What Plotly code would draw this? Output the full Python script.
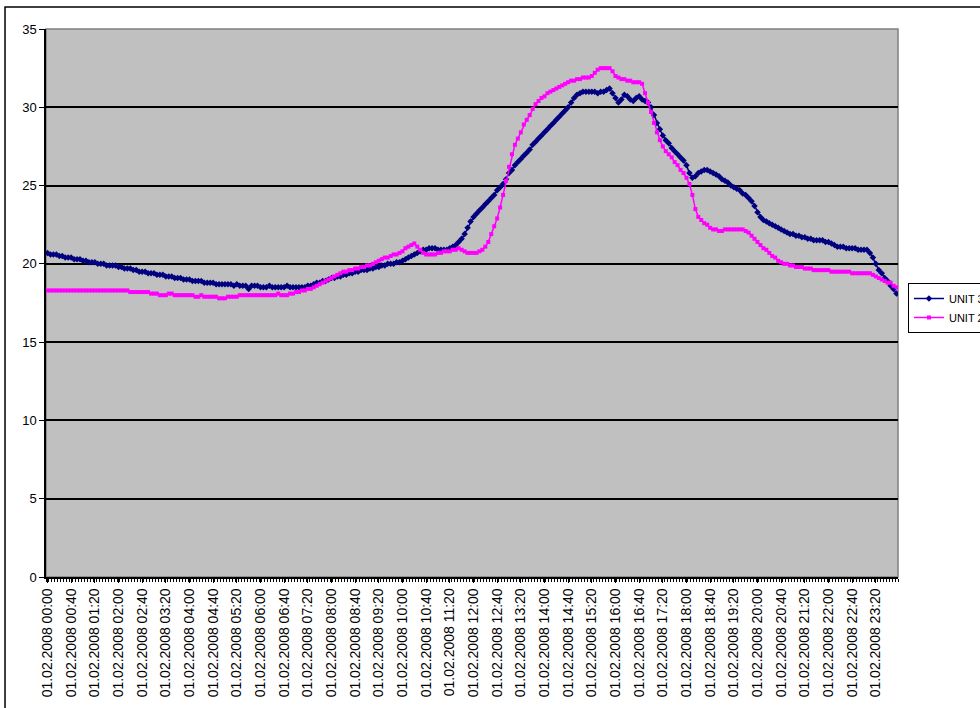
import plotly.graph_objects as go

# ---- data (5-minute samples, 01.02.2008) ----
unit3 = [
    20.7,20.6,20.6,20.6,20.5,20.5,20.4,20.4,20.4,20.3,20.3,20.3,
    20.2,20.2,20.1,20.1,20.1,20.0,20.0,20.0,19.9,19.9,19.9,19.9,
    19.8,19.8,19.7,19.7,19.7,19.6,19.6,19.5,19.5,19.5,19.4,19.4,
    19.4,19.3,19.3,19.3,19.2,19.2,19.2,19.1,19.1,19.1,19.0,19.0,
    19.0,18.9,18.9,18.9,18.9,18.8,18.8,18.8,18.8,18.7,18.7,18.7,
    18.7,18.7,18.7,18.6,18.7,18.6,18.6,18.6,18.4,18.6,18.6,18.6,
    18.5,18.5,18.5,18.6,18.5,18.5,18.5,18.5,18.5,18.6,18.5,18.5,
    18.5,18.5,18.5,18.5,18.6,18.6,18.7,18.8,18.8,18.9,18.9,19.0,
    19.1,19.1,19.2,19.2,19.3,19.3,19.4,19.4,19.5,19.5,19.6,19.6,
    19.6,19.7,19.7,19.8,19.8,19.9,19.9,20.0,20.0,20.0,20.1,20.1,
    20.2,20.3,20.4,20.5,20.6,20.7,20.8,20.9,20.9,21.0,21.0,21.0,
    20.9,20.9,20.9,20.9,21.0,21.1,21.2,21.4,21.6,21.9,22.3,22.7,
    23.0,23.2,23.4,23.6,23.8,24.0,24.2,24.4,24.7,24.9,25.1,25.4,
    25.8,26.0,26.3,26.5,26.7,26.9,27.1,27.3,27.6,27.8,28.0,28.2,
    28.4,28.6,28.8,29.0,29.2,29.4,29.6,29.8,30.0,30.3,30.6,30.8,
    30.9,31.0,31.0,31.0,31.0,31.0,30.9,31.0,31.0,31.1,31.2,30.9,
    30.6,30.3,30.5,30.8,30.7,30.5,30.4,30.6,30.7,30.5,30.4,30.3,
    30.0,29.5,29.0,28.6,28.2,27.9,27.7,27.4,27.2,27.0,26.8,26.6,
    26.3,25.8,25.5,25.6,25.8,25.9,26.0,26.0,25.9,25.8,25.7,25.6,
    25.4,25.3,25.2,25.0,24.9,24.8,24.7,24.5,24.4,24.2,24.0,23.7,
    23.3,23.0,22.8,22.7,22.6,22.5,22.4,22.3,22.2,22.1,22.0,21.9,
    21.9,21.8,21.8,21.7,21.7,21.6,21.6,21.5,21.5,21.5,21.5,21.4,
    21.4,21.3,21.2,21.1,21.1,21.1,21.0,21.0,21.0,21.0,20.9,20.9,
    20.9,20.9,20.7,20.4,20.0,19.6,19.4,19.1,18.9,18.6,18.4,18.1,
]

unit2 = [
    18.3,18.3,18.3,18.3,18.3,18.3,18.3,18.3,18.3,18.3,18.3,18.3,
    18.3,18.3,18.3,18.3,18.3,18.3,18.3,18.3,18.3,18.3,18.3,18.3,
    18.3,18.3,18.3,18.3,18.2,18.2,18.2,18.2,18.2,18.2,18.2,18.1,
    18.1,18.1,18.0,18.0,18.0,18.1,18.1,18.0,18.0,18.0,18.0,18.0,
    18.0,18.0,17.9,17.9,18.0,17.9,17.9,17.9,17.9,17.9,17.8,17.8,
    17.8,17.9,17.9,17.9,17.9,18.0,18.0,18.0,18.0,18.0,18.0,18.0,
    18.0,18.0,18.0,18.0,18.0,18.0,18.1,18.0,18.0,18.0,18.1,18.1,
    18.2,18.2,18.3,18.3,18.4,18.4,18.5,18.6,18.7,18.8,18.9,19.0,
    19.1,19.2,19.3,19.4,19.5,19.5,19.6,19.6,19.7,19.7,19.8,19.8,
    19.9,19.9,20.0,20.1,20.2,20.3,20.4,20.4,20.5,20.6,20.6,20.7,
    20.8,21.0,21.1,21.2,21.3,21.1,20.9,20.7,20.6,20.6,20.6,20.6,
    20.7,20.7,20.8,20.8,20.8,20.9,20.9,21.0,20.9,20.8,20.7,20.7,
    20.7,20.7,20.8,20.9,21.1,21.4,21.9,22.4,22.9,23.6,24.4,25.3,
    26.2,27.0,27.6,28.0,28.4,28.9,29.2,29.5,29.9,30.2,30.4,30.6,
    30.7,30.9,31.0,31.1,31.2,31.3,31.4,31.5,31.6,31.7,31.7,31.8,
    31.8,31.9,31.9,31.9,32.0,32.2,32.4,32.5,32.5,32.5,32.5,32.3,
    32.0,31.9,31.8,31.8,31.7,31.7,31.6,31.6,31.6,31.5,30.9,30.3,
    29.7,29.0,28.4,27.9,27.5,27.2,27.0,26.8,26.5,26.3,26.0,25.8,
    25.5,25.1,24.4,23.5,23.0,22.8,22.6,22.5,22.3,22.2,22.2,22.1,
    22.1,22.2,22.2,22.2,22.2,22.2,22.2,22.2,22.1,22.0,21.8,21.6,
    21.4,21.2,21.0,20.9,20.7,20.5,20.4,20.2,20.1,20.0,20.0,19.9,
    19.9,19.8,19.8,19.8,19.7,19.7,19.7,19.6,19.6,19.6,19.6,19.6,
    19.6,19.5,19.5,19.5,19.5,19.5,19.5,19.5,19.4,19.4,19.4,19.4,
    19.4,19.4,19.4,19.3,19.2,19.1,19.0,18.9,18.8,18.8,18.6,18.5,
]

n = len(unit3)
times = ["01.02.2008 %02d:%02d" % (k * 5 // 60, k * 5 % 60) for k in range(n)]
tick_idx = list(range(0, n, 8))
tick_text = [times[k] for k in tick_idx]
x = list(range(n))

fig = go.Figure()
fig.add_trace(go.Scatter(
    x=x, y=unit3, name="UNIT 3", mode="lines+markers",
    line=dict(color="#000080", width=1.5),
    marker=dict(symbol="diamond", size=5, color="#000080"),
))
fig.add_trace(go.Scatter(
    x=x, y=unit2, name="UNIT 2", mode="lines+markers",
    line=dict(color="#FF00FF", width=1.5),
    marker=dict(symbol="square", size=4, color="#FF00FF"),
))

font = "Arial, Liberation Sans, sans-serif"
fig.update_layout(
    width=980, height=708,
    margin=dict(l=46, r=82, t=29, b=131, autoexpand=False),
    paper_bgcolor="white",
    plot_bgcolor="#C0C0C0",
    font=dict(family=font, size=12, color="black"),
    showlegend=True,
    legend=dict(
        x=1.0117, y=0.5365, xanchor="left", yanchor="top",
        bgcolor="white", bordercolor="black", borderwidth=1,
        font=dict(family=font, size=11, color="black"),
        itemwidth=30, tracegroupgap=0,
    ),
    shapes=[
        dict(type="rect", xref="paper", yref="paper",
             x0=-0.0481, x1=1.2, y0=-0.4, y1=1.0401,
             line=dict(color="black", width=1.5), fillcolor="rgba(0,0,0,0)",
             layer="below"),
        dict(type="rect", xref="paper", yref="paper",
             x0=0, x1=1, y0=0, y1=1,
             line=dict(color="#808080", width=1.5), fillcolor="rgba(0,0,0,0)",
             layer="below"),
    ],
)
fig.update_xaxes(
    range=[-0.5, n - 0.5],
    tickmode="array", tickvals=tick_idx, ticktext=tick_text,
    tickangle=-90, ticks="outside", ticklen=4, tickcolor="black",
    minor=dict(tick0=0.5, dtick=1, ticks="outside", ticklen=3, tickcolor="black"),
    showgrid=False, zeroline=False,
    showline=True, linecolor="black", linewidth=1.5,
    tickfont=dict(family=font, size=14, color="black"),
)
fig.update_yaxes(
    range=[0, 35], dtick=5, tick0=0,
    ticks="outside", ticklen=5, tickcolor="black",
    showgrid=True, gridcolor="black", gridwidth=1.5,
    zeroline=False,
    showline=True, linecolor="black", linewidth=1.5,
    tickfont=dict(family=font, size=13, color="black"),
)

fig.write_html("out.html", config={"displayModeBar": False},
               post_script="document.body.style.margin='0px';")
